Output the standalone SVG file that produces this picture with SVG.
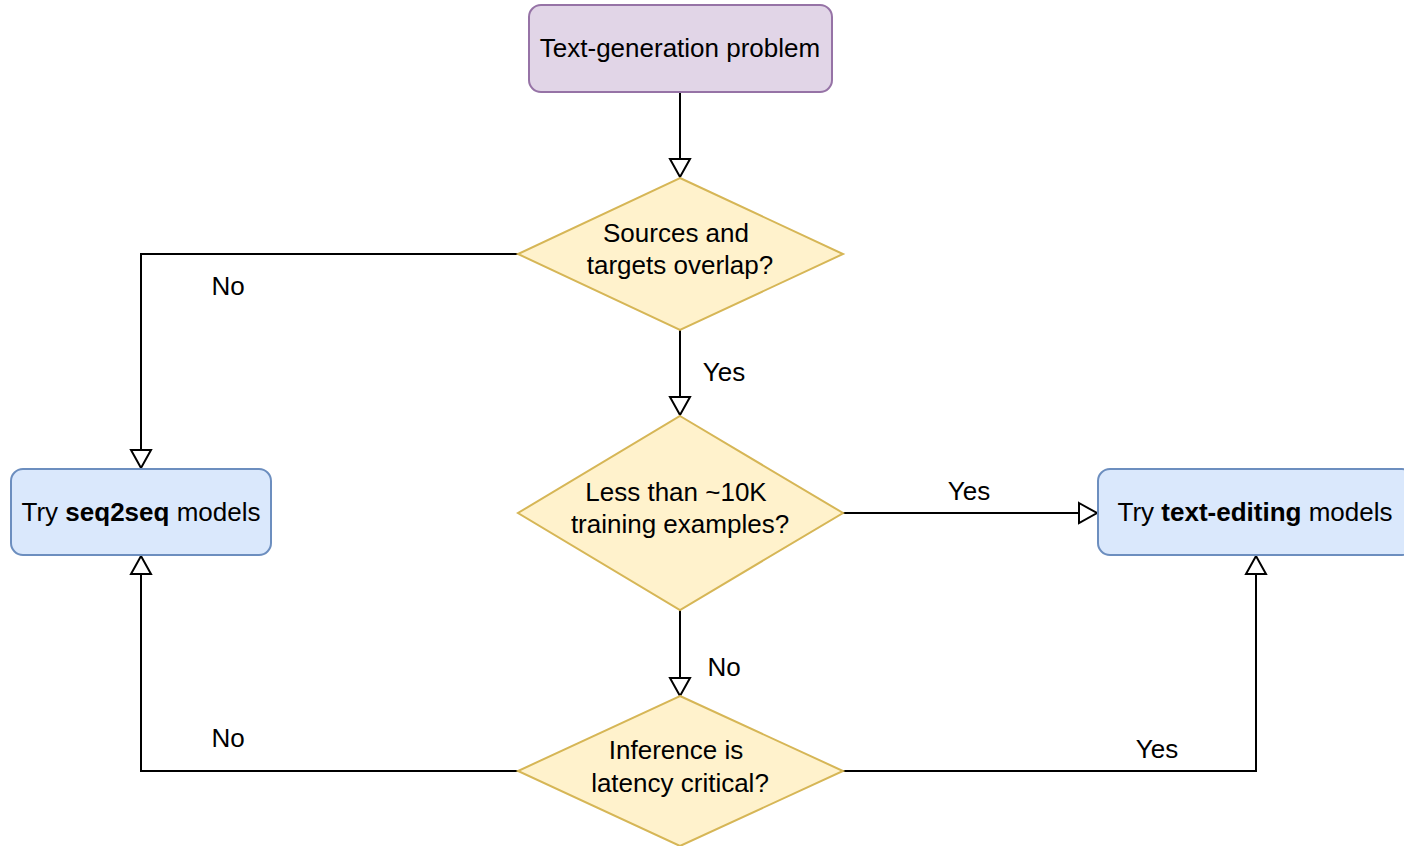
<svg xmlns="http://www.w3.org/2000/svg" width="1404" height="846" viewBox="0 0 1404 846">
<style>
text{font-family:"Liberation Sans",Arial,sans-serif;font-size:26px;fill:#000;text-anchor:middle}
.purple{fill:#e1d5e7;stroke:#9673a6;stroke-width:2}
.blue{fill:#dae8fc;stroke:#6c8ebf;stroke-width:2}
.dia{fill:#fff2cc;stroke:#d6b656;stroke-width:2}
.edge{fill:none;stroke:#000;stroke-width:2;marker-end:url(#arr)}
</style>
<defs>
<marker id="arr" markerUnits="userSpaceOnUse" markerWidth="24" markerHeight="24" viewBox="0 0 24 24" refX="20" refY="12" orient="auto">
<path d="M2,2 L20,12 L2,22 Z" fill="#fff" stroke="#000" stroke-width="2"/>
</marker>
</defs>
<rect width="1404" height="846" fill="#fff"/>
<g id="edges">
<path class="edge" d="M680,92 V177"/>
<path class="edge" d="M518,254 H141 V468"/>
<path class="edge" d="M680,330 V415"/>
<path class="edge" d="M843,513 H1097"/>
<path class="edge" d="M680,610 V696"/>
<path class="edge" d="M518,771 H141 V556"/>
<path class="edge" d="M843,771 H1256 V556"/>
<text x="228" y="295">No</text>
<text x="724" y="381">Yes</text>
<text x="969" y="500">Yes</text>
<text x="724" y="676">No</text>
<text x="228" y="747">No</text>
<text x="1157" y="758">Yes</text>
</g>
<g id="start">
<rect class="purple" x="529" y="5" width="303" height="87" rx="12"/>
<text x="680" y="57">Text-generation problem</text>
</g>
<g id="overlap">
<path class="dia" d="M680,178 L843,254 L680,330 L518,254 Z"/>
<text x="676" y="242">Sources and</text>
<text x="680" y="274">targets overlap?</text>
</g>
<g id="examples">
<path class="dia" d="M680,416 L843,513 L680,610 L518,513 Z"/>
<text x="676" y="501">Less than ~10K</text>
<text x="680" y="533">training examples?</text>
</g>
<g id="latency">
<path class="dia" d="M680,696 L843,771 L680,846 L518,771 Z"/>
<text x="676" y="759">Inference is</text>
<text x="680" y="792">latency critical?</text>
</g>
<g id="seq2seq">
<rect class="blue" x="11" y="469" width="260" height="86" rx="12"/>
<text x="141" y="521">Try <tspan font-weight="bold">seq2seq</tspan> models</text>
</g>
<g id="textedit">
<rect class="blue" x="1098" y="469" width="316" height="86" rx="12"/>
<text x="1255" y="521">Try <tspan font-weight="bold">text-editing</tspan> models</text>
</g>
</svg>
